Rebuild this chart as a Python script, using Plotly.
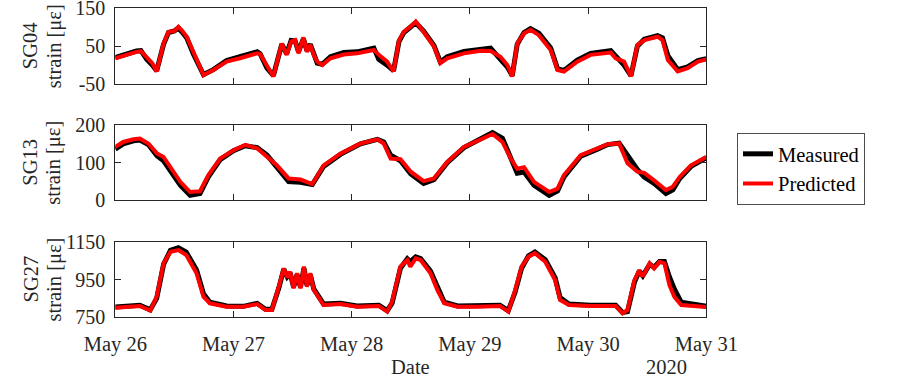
import pandas as pd
import plotly.graph_objects as go

# ---------------- data (hours after 2020-05-26 00:00) ----------------
sg04_hours = [0, 2, 4.3, 5.2, 6.4, 7.5, 8.4, 9.8, 10.8, 12.0, 12.8, 13.5, 14.5, 15.9, 17.9, 19.9, 22.6,
              25.3, 28.8, 29.4, 30.8, 32.1, 33.8, 34.8, 35.7, 36.5, 37.2, 38.2, 38.9, 39.6, 40.3, 41, 42,
              43.7, 46.4, 49.1, 52.5, 53.5, 55.2, 56.5, 57.6, 58.6, 59.9, 61, 62.6, 64.7, 66, 67.4, 70.8,
              74.2, 76.2, 78.2, 79.6, 80.6, 81.6, 83, 84.3, 86, 88.4, 89.8, 91.1, 93.8, 96.5, 100.6, 101.6,
              103.3, 104.7, 106, 107.4, 108.7, 110.1, 111.1, 112.2, 114.2, 116.2, 118.3, 120]
sg04_predicted = [18, 27, 35, 37, 20, 5, -17, 57, 88, 90, 101, 92, 75, 31, -26, -13, 9,
                  18, 31, 29, 0, -30, 57, 27, 62, 66, 31, 73, 35, 53, 27, 9, 0,
                  18, 28, 31, 40, 27, 9, -17, 66, 88, 101, 115, 88, 49, 5, 18, 31,
                  38, 37, 22, 0, -30, 57, 84, 93, 79, 40, -13, -17, 9, 27, 33, 18,
                  9, -30, 53, 66, 71, 75, 66, 13, -17, -8, 9, 15]
sg04_measured = [20, 29, 37, 38, 15, 0, -15, 55, 86, 90, 98, 88, 72, 28, -25, -12, 12,
                 22, 35, 30, -8, -28, 55, 30, 65, 64, 35, 70, 38, 55, 30, 5, 2,
                 22, 33, 35, 45, 15, 0, -15, 62, 86, 100, 112, 90, 52, 8, 22, 36,
                 43, 45, 15, -5, -28, 55, 86, 96, 84, 45, -10, -14, 13, 31, 38, 25,
                 0, -28, 50, 68, 72, 78, 72, 25, -12, -5, 12, 17]

sg13_hours = [0, 1.6, 3.7, 5, 6.7, 8.5, 9.8, 11.1, 13.2, 15.2, 17.2, 18.9, 21.3, 24, 26.4, 28.8, 30.8,
              32.8, 35.2, 37.6, 40, 42.3, 45.7, 49.8, 53.2, 54.5, 55.9, 57.9, 60, 62.6, 64.7, 67.4, 70.8,
              74.9, 76.6, 78.6, 80.3, 81.6, 83, 85, 88.1, 89.8, 91.1, 94.5, 97.9, 100, 102.3, 104, 106,
              107.4, 109.4, 111.8, 113.2, 114.6, 116.9, 120]
sg13_predicted = [142, 155, 162, 164, 151, 124, 115, 89, 49, 22, 24, 67, 111, 133, 147, 138, 115,
                  93, 58, 55, 43, 93, 124, 151, 162, 151, 111, 109, 76, 51, 58, 102, 142,
                  167, 176, 155, 111, 84, 88, 49, 22, 31, 67, 120, 138, 149, 151, 98, 76,
                  73, 53, 27, 36, 62, 93, 115]
sg13_measured = [136, 150, 158, 160, 148, 118, 105, 80, 40, 13, 18, 62, 108, 132, 145, 140, 120,
                 88, 50, 48, 42, 90, 122, 150, 162, 155, 120, 105, 70, 45, 55, 100, 140,
                 168, 180, 165, 115, 72, 75, 40, 13, 25, 62, 117, 136, 148, 152, 120, 82,
                 62, 45, 18, 28, 58, 90, 113]

sg27_hours = [0, 5, 7.1, 8.4, 9.8, 11.2, 12.8, 14.4, 16.5, 17.9, 19.2, 22.6, 26, 28.8, 30.5, 31.8,
              33.2, 34.2, 34.9, 35.5, 36.2, 36.9, 37.6, 38.3, 38.9, 39.6, 40.3, 41.3, 42.3, 45.7, 49.1,
              53.5, 55.2, 56.2, 57.9, 59.3, 59.9, 61, 62, 64, 65.4, 66.8, 69.5, 73.6, 78.1, 79.8, 81.2,
              82.5, 83.9, 85.2, 87.3, 89.3, 90.3, 92.1, 96.5, 101.6, 103, 104, 105.4, 106.4, 107.1,
              108.5, 109.4, 110.5, 111.5, 112.5, 113.5, 114.9, 120]
sg27_predicted = [801, 810, 785, 859, 1036, 1097, 1106, 1080, 983, 859, 824, 806, 806, 820, 789, 789,
                  912, 1009, 960, 991, 903, 983, 903, 1018, 912, 983, 894, 850, 815, 820, 806,
                  810, 780, 833, 1018, 1053, 1018, 1062, 1053, 983, 894, 824, 806, 806, 810, 780, 894,
                  1018, 1071, 1089, 1044, 947, 842, 815, 810, 810, 771, 789, 947, 1000, 965,
                  1036, 1009, 1044, 1036, 921, 859, 815, 804]
sg27_measured = [805, 814, 790, 850, 1030, 1105, 1118, 1095, 1000, 875, 830, 810, 808, 824, 792, 792,
                 905, 1005, 965, 985, 910, 975, 910, 1010, 920, 975, 900, 860, 820, 824, 810,
                 814, 785, 825, 1010, 1060, 1045, 1070, 1060, 995, 905, 830, 810, 810, 814, 785, 885,
                 1010, 1075, 1095, 1055, 960, 855, 820, 814, 814, 775, 780, 935, 995, 970,
                 1030, 1015, 1045, 1045, 965, 900, 830, 808]

panel_names = ["SG04", "SG13", "SG27"]
y_tickvals = [[-50, 50, 150], [0, 100, 200], [750, 950, 1150]]
y_ticktext = [["-50", "50", "150"], ["0", "100", "200"], ["750", "950", "1150"]]
day_ticks = ["2020-05-26", "2020-05-27", "2020-05-28", "2020-05-29", "2020-05-30", "2020-05-31"]
day_labels = ["May 26", "May 27", "May 28", "May 29", "May 30", "May 31"]

base = pd.Timestamp("2020-05-26")
def to_time(hours):
    return base + pd.to_timedelta(hours, unit="h")

series = [(sg04_hours, sg04_measured, sg04_predicted),
          (sg13_hours, sg13_measured, sg13_predicted),
          (sg27_hours, sg27_measured, sg27_predicted)]

W, H = 897, 383
FONT = "Liberation Serif"
FS = 20
AX = "#262626"
x0, x1 = 115.3 / W, 706.3 / W
panel_px = [(8.3, 84.0), (125.0, 200.3), (241.7, 317.3)]

fig = go.Figure()
for i, (hrs, meas, pred) in enumerate(series):
    sfx = "" if i == 0 else str(i + 1)
    t = to_time(hrs)
    fig.add_trace(go.Scatter(x=t, y=meas, mode="lines", name="Measured",
                             line=dict(color="#000000", width=5),
                             xaxis="x" + sfx, yaxis="y" + sfx, showlegend=(i == 0)))
    fig.add_trace(go.Scatter(x=t, y=pred, mode="lines", name="Predicted",
                             line=dict(color="#ff0000", width=4),
                             xaxis="x" + sfx, yaxis="y" + sfx, showlegend=(i == 0)))

layout = dict(width=W, height=H, margin=dict(l=0, r=0, t=0, b=0, autoexpand=False),
              paper_bgcolor="white", plot_bgcolor="white",
              font=dict(family=FONT, size=FS, color=AX))
y_ranges = [[-50, 150], [0, 200], [750, 1150]]
annotations = []
for i in range(3):
    sfx = "" if i == 0 else str(i + 1)
    top, bot = panel_px[i]
    dom = [1 - bot / H, 1 - top / H]
    layout["xaxis" + sfx] = dict(domain=[x0, x1], anchor="y" + sfx,
                                 range=["2020-05-26", "2020-05-31"],
                                 tickvals=day_ticks, ticktext=day_labels,
                                 showticklabels=(i == 2), ticks="inside", ticklen=6,
                                 tickcolor=AX, showline=True, linecolor=AX, linewidth=1,
                                 mirror="ticks", showgrid=False, zeroline=False,
                                 ticklabelstandoff=8, automargin=False,
                                 ticklabeloverflow="allow",
                                 tickfont=dict(family=FONT, size=20.5, color=AX))
    layout["yaxis" + sfx] = dict(domain=dom, anchor="x" + sfx, range=y_ranges[i],
                                 tickvals=y_tickvals[i], ticktext=y_ticktext[i],
                                 ticks="inside", ticklen=6, tickcolor=AX,
                                 showline=True, linecolor=AX, linewidth=1, mirror="ticks",
                                 showgrid=False, zeroline=False, ticklabelstandoff=5,
                                 automargin=False, ticklabeloverflow="allow",
                                 tickfont=dict(family=FONT, size=FS, color=AX))
    yc = 1 - (top + bot) / 2 / H
    annotations.append(dict(text=panel_names[i], x=30 / W, y=yc, xref="paper", yref="paper",
                            textangle=-90, showarrow=False, xanchor="center", yanchor="middle",
                            font=dict(family=FONT, size=20.5, color=AX)))
    annotations.append(dict(text="strain [με]", x=54 / W, y=yc, xref="paper", yref="paper",
                            textangle=-90, showarrow=False, xanchor="center", yanchor="middle",
                            font=dict(family=FONT, size=20.5, color=AX)))

annotations.append(dict(text="Date", x=410.8 / W, y=1 - 366.7 / H, xref="paper", yref="paper",
                        showarrow=False, xanchor="center", yanchor="middle",
                        font=dict(family=FONT, size=20.5, color=AX)))
annotations.append(dict(text="2020", x=666.7 / W, y=1 - 366.7 / H, xref="paper", yref="paper",
                        showarrow=False, xanchor="center", yanchor="middle",
                        font=dict(family=FONT, size=20.5, color=AX)))
layout["annotations"] = annotations
layout["legend"] = dict(x=737 / W, y=1 - 133 / H, xanchor="left", yanchor="top",
                        bordercolor="#4d4d4d", borderwidth=1, bgcolor="white",
                        font=dict(family=FONT, size=20.5, color="#000000"),
                        tracegroupgap=0, itemwidth=30)
fig.update_layout(**layout)
fig.write_html("out.html", config={"displayModeBar": False},
               post_script="document.body.style.margin='0';document.body.style.padding='0';")
